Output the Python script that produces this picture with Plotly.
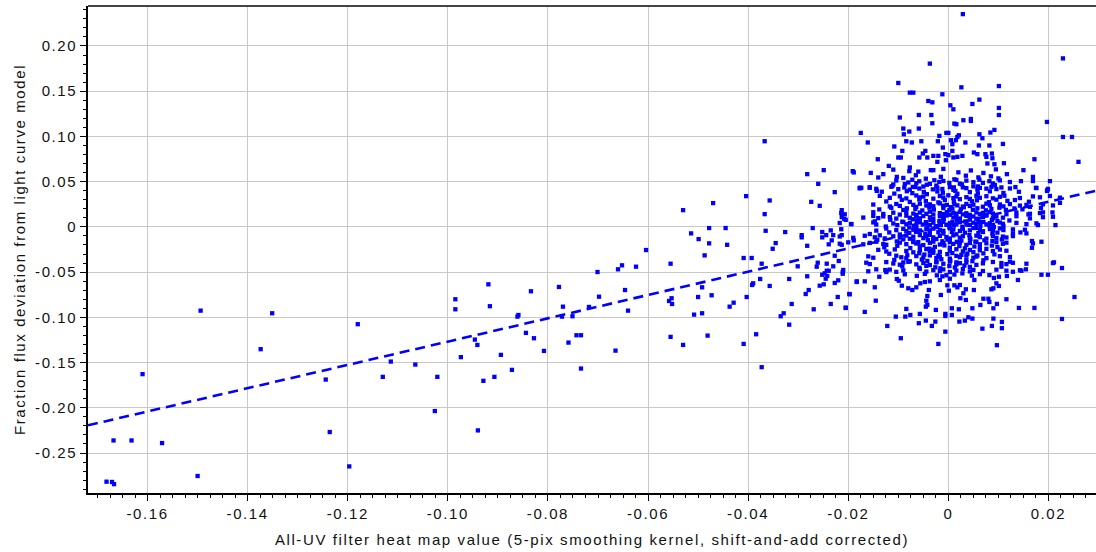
import plotly.graph_objects as go

# ---- sparse tail of the distribution (strongly negative heat-map values) ----
tail_heat = [-0.1682, -0.1671, -0.1667, -0.1668, -0.1632, -0.1610, -0.1571, -0.1500,
             -0.1494, -0.1351, -0.1180, -0.1374, -0.1244, -0.1130, -0.1114, -0.1065,
             -0.1021, -0.1026, -0.1236, -0.1197,
             -0.0530, -0.0514, -0.0499, -0.0604, -0.0555, -0.0701, -0.0660, -0.0652,
             -0.0624, -0.0919, -0.0985, -0.0985, -0.0916, -0.0834, -0.0778, -0.0770,
             -0.0698, -0.0646, -0.0640, -0.0718, -0.0859, -0.0861, -0.0772, -0.0751,
             -0.0558, -0.0553, -0.0552, -0.0500, -0.0508, -0.0946, -0.0941, -0.0974,
             -0.0894, -0.0844, -0.0828, -0.0808, -0.0759, -0.0743, -0.0734, -0.0665,
             -0.0555, -0.0530, -0.0929, -0.0907, -0.0872, -0.0734, -0.0940]
tail_flux = [-0.2817, -0.2820, -0.2844, -0.2361, -0.2361, -0.1628, -0.2390, -0.2754,
             -0.0926, -0.0955, -0.1076, -0.1352, -0.1688, -0.1658, -0.1489, -0.1522,
             -0.1658, -0.2036, -0.2268, -0.2648,
             0.0185, -0.0072, -0.0135, -0.0256, -0.0407, -0.0499, -0.0469, -0.0425,
             -0.0440, -0.0635, -0.0800, -0.0911, -0.0877, -0.0712, -0.0664, -0.0882,
             -0.0772, -0.0698, -0.0926, -0.0885, -0.0974, -0.0992, -0.0992, -0.0988,
             -0.0819, -0.0789, -0.0852, -0.0775, -0.0970, -0.1246, -0.1305, -0.1440,
             -0.1415, -0.1172, -0.1231, -0.1371, -0.1279, -0.1198, -0.1198, -0.1368,
             -0.1216, -0.1305, -0.1702, -0.1658, -0.1581, -0.1566, -0.2250]

# ---- points around the main cluster ----
halo_heat = [-0.0367, -0.0282, -0.0249, -0.0260, -0.0227, -0.0191, -0.0189, -0.0177,
             -0.0470, -0.0404, -0.0357, -0.0367, -0.0274, -0.0257, -0.0213, -0.0213,
             -0.0208, -0.0205, -0.0194, -0.0478, -0.0445, -0.0478, -0.0442, -0.0487,
             -0.0365, -0.0326, -0.0345, -0.0351, -0.0409, -0.0393, -0.0293, -0.0293,
             -0.0282, -0.0271, -0.0252, -0.0244, -0.0252, -0.0235, -0.0230, -0.0233,
             -0.0239, -0.0213, -0.0213, -0.0189, -0.0227,
             -0.0373, -0.0301, -0.0263, -0.0261, -0.0243, -0.0230, -0.0219, -0.0252,
             -0.0247, -0.0243, -0.0239, -0.0242, -0.0245, -0.0249, -0.0257, -0.0282,
             -0.0318, -0.0357, -0.0376, -0.0392, -0.0390, -0.0403, -0.0429, -0.0437,
             -0.0473, -0.0492, -0.0492, -0.0211, -0.0211, -0.0220, -0.0227, -0.0183,
             -0.0221, -0.0235, -0.0197, -0.0205, -0.0269, -0.0279, -0.0285, -0.0313,
             -0.0329, -0.0335, -0.0318, -0.0481, -0.0409, -0.0384, -0.0373,
             0.0029, 0.0229, -0.0037, -0.0100, 0.0026, 0.0101, -0.0077, -0.0070,
             -0.0012, -0.0040, -0.0032, 0.0062, 0.0048, 0.0004, 0.0010, 0.0101,
             -0.0097, -0.0059, -0.0034, 0.0101, -0.0032, 0.0030, 0.0045, 0.0045,
             0.0197, -0.0175, -0.0090, -0.0089, -0.0078, -0.0059, -0.0004, 0.0000,
             0.0012, 0.0016, 0.0021, 0.0018, 0.0062, 0.0068, 0.0084, 0.0092,
             0.0229, 0.0247, -0.0161, -0.0108, -0.0084, -0.0073, -0.0054, -0.0018,
             -0.0021, -0.0011, 0.0005, 0.0008, 0.0015, 0.0034, 0.0061, 0.0082,
             0.0109, -0.0141, -0.0100, -0.0095, -0.0092, -0.0058, -0.0051, -0.0046,
             -0.0042, -0.0030, -0.0020, -0.0022, -0.0006, 0.0000, -0.0005, 0.0008,
             0.0010, 0.0018, 0.0028, 0.0051, 0.0058, 0.0074, 0.0076, 0.0087,
             0.0088, 0.0078, 0.0092, 0.0111, 0.0172, 0.0260, -0.0119, -0.0155,
             -0.0140, -0.0130, -0.0103, -0.0077, -0.0078, -0.0035, -0.0030, 0.0117,
             0.0150, 0.0169, 0.0145, 0.0175, 0.0197, 0.0203, -0.0174, -0.0157,
             -0.0143, -0.0110, 0.0223, 0.0208, 0.0189, 0.0160, 0.0198,
             -0.0183, -0.0167, -0.0198, -0.0205, -0.0167, -0.0145, -0.0147, -0.0138,
             -0.0124, -0.0126, -0.0103, -0.0099, -0.0093, -0.0080, -0.0072, -0.0064,
             -0.0056, -0.0047, -0.0037, -0.0039, -0.0042, -0.0044, -0.0042, -0.0045,
             -0.0084, -0.0105, -0.0086, -0.0076, -0.0057, -0.0045, -0.0059, -0.0033,
             -0.0026, -0.0122, -0.0095, -0.0020, -0.0006, -0.0006, -0.0006, -0.0025,
             -0.0015, 0.0007, 0.0021, 0.0007, 0.0022, 0.0033, 0.0040, 0.0048,
             0.0048, 0.0068, 0.0064, 0.0082, 0.0097, 0.0116, 0.0090, 0.0090,
             0.0087, 0.0107, 0.0107, 0.0097, 0.0141, 0.0172, 0.0227, 0.0252,
             0.0211, 0.0227, 0.0186, 0.0199, 0.0167, 0.0167, 0.0186, 0.0214,
             0.0179, 0.0144, 0.0156, 0.0129, 0.0139, 0.0155, 0.0146, 0.0129,
             0.0117, 0.0123, 0.0106, 0.0106, 0.0091, 0.0101, 0.0096, 0.0101,
             0.0090, 0.0086, 0.0052, 0.0051, 0.0035, 0.0030, 0.0035, 0.0024,
             0.0012, 0.0018, 0.0023, 0.0001, -0.0002, -0.0017, 0.0003, -0.0004,
             0.0070, 0.0080]
halo_flux = [0.0947, 0.0583, 0.0627, 0.0476, 0.0384, 0.0616, 0.0602, 0.0432,
             0.0263, 0.0340, 0.0292, 0.0141, 0.0277, 0.0233, 0.0185, 0.0108,
             0.0089, 0.0078, 0.0031, -0.0013, -0.0013, -0.0182, -0.0198, -0.0315,
             -0.0043, -0.0057, -0.0179, -0.0242, -0.0344, -0.0344, -0.0091, -0.0116,
             -0.0209, -0.0013, -0.0057, -0.0091, -0.0116, -0.0039, -0.0091, -0.0149,
             -0.0193, -0.0091, -0.0198, -0.0149, -0.0319,
             -0.0407, -0.0436, -0.0440, -0.0396, -0.0407, -0.0436, -0.0377, -0.0529,
             -0.0513, -0.0485, -0.0485, -0.0543, -0.0573, -0.0635, -0.0650, -0.0546,
             -0.0576, -0.0653, -0.0576, -0.0642, -0.0624, -0.0775, -0.0838, -0.0882,
             -0.0756, -0.0668, -0.0955, -0.0499, -0.0518, -0.0591, -0.0620, -0.0609,
             -0.0775, -0.0852, -0.0745, -0.0896, -0.0911, -0.0698, -0.0742, -0.0852,
             -0.0955, -0.0988, -0.1081, -0.1202, -0.1294, -0.1187, -0.1551,
             0.2352, 0.1863, 0.1805, 0.1591, 0.1543, 0.1557, 0.1484, 0.1484,
             0.1466, 0.1392, 0.1377, 0.1407, 0.1359, 0.1344, 0.1300, 0.1315,
             0.1209, 0.1237, 0.1237, 0.1237, 0.1146, 0.1179, 0.1193, 0.1171,
             0.1160, 0.1039, 0.1087, 0.1024, 0.1054, 0.1087, 0.1039, 0.1039,
             0.1142, 0.1135, 0.1013, 0.0994, 0.1024, 0.0980, 0.1043, 0.1072,
             0.0994, 0.0994, 0.0933, 0.0889, 0.0947, 0.0933, 0.0947, 0.1006,
             0.0947, 0.0877, 0.0958, 0.0914, 0.0958, 0.0933, 0.0900, 0.0900,
             0.0917, 0.0748, 0.0767, 0.0767, 0.0840, 0.0767, 0.0811, 0.0840,
             0.0767, 0.0785, 0.0785, 0.0719, 0.0804, 0.0793, 0.0737, 0.0840,
             0.0767, 0.0774, 0.0785, 0.0822, 0.0804, 0.0804, 0.0774, 0.0811,
             0.0759, 0.0701, 0.0693, 0.0704, 0.0748, 0.0719, 0.0674, 0.0597,
             0.0546, 0.0583, 0.0553, 0.0657, 0.0616, 0.0627, 0.0627, 0.0583,
             0.0627, 0.0553, 0.0506, 0.0432, 0.0398, 0.0506, 0.0432, 0.0432,
             0.0398, 0.0469, 0.0266, 0.0160, 0.0160, 0.0138, 0.0406,
             -0.0602, -0.0602, -0.0742, -0.0893, -0.0940, -0.0816, -0.0668, -0.0551,
             -0.0499, -0.0477, -0.0576, -0.0595, -0.0650, -0.0679, -0.0698, -0.0668,
             -0.0624, -0.0609, -0.0602, -0.0698, -0.0764, -0.0816, -0.0863, -0.0882,
             -0.0907, -0.0992, -0.0992, -0.0974, -0.0962, -0.1036, -0.1065, -0.1095,
             -0.1047, -0.1095, -0.1231, -0.1294, -0.1158, -0.0985, -0.0962, -0.0918,
             -0.0753, -0.0900, -0.0911, -0.0974, -0.1047, -0.1036, -0.0999, -0.1014,
             -0.0900, -0.1125, -0.0863, -0.0830, -0.0852, -0.0800, -0.0900, -0.1014,
             -0.1095, -0.1051, -0.1120, -0.1308, -0.0896, -0.0896, -0.1018, -0.0775,
             -0.0392, -0.0455, -0.0529, -0.0529, -0.0157, -0.0231, -0.0164, 0.0020,
             0.0020, -0.0061, -0.0072, -0.0072, -0.0587, -0.0469, -0.0485, -0.0496,
             -0.0543, -0.0385, -0.0400, -0.0440, -0.0565, -0.0551, -0.0624, -0.0653,
             -0.0679, -0.0690, -0.0587, -0.0698, -0.0690, -0.0734, -0.0808, -0.0789,
             -0.0646, -0.0668, -0.0642, -0.0705, -0.0646, -0.0587, -0.0573, -0.0535,
             -0.0794, -0.0794]

# ---- dense core of the cluster (x = heat-map value, y = flux deviation) ----
core_heat = [
    -0.0110, -0.0060, -0.0010, 0.0020, 0.0045, 0.0070, 0.0095,
    -0.0090, -0.0065, -0.0045, -0.0015, 0.0012, 0.0035, 0.0060, 0.0085, 0.0100,
    -0.0104, -0.0080, -0.0072, -0.0064, -0.0058, -0.0037, -0.0028, -0.0018, -0.0010,
    0.0002, 0.0016, 0.0023, 0.0036, 0.0050, 0.0062, 0.0069, 0.0082, 0.0089, 0.0103,
    0.0123, 0.0169,
    -0.0112, -0.0087, -0.0071, -0.0043, -0.0024, 0.0011, 0.0027, 0.0059, 0.0093, 0.0134,
    -0.0177, -0.0157, -0.0144, -0.0114, -0.0100, -0.0088, -0.0077, -0.0066, -0.0058,
    -0.0050, -0.0031, -0.0022, -0.0012, 0.0003, 0.0010, 0.0029, 0.0036, 0.0050,
    0.0058, 0.0063, 0.0076, 0.0086, 0.0096, 0.0106, 0.0123, 0.0176, 0.0199,
    -0.0133, -0.0108, -0.0083, -0.0072, -0.0049, -0.0043, -0.0022, -0.0011, 0.0014,
    0.0018, 0.0043, 0.0059, 0.0083, 0.0110, 0.0141,
    -0.0137, -0.0117, -0.0097, -0.0084, -0.0064, -0.0057, -0.0050, -0.0030, -0.0017,
    -0.0010, 0.0000, 0.0010, 0.0016, 0.0036, 0.0043, 0.0056, 0.0063, 0.0076, 0.0089,
    0.0103, 0.0112, 0.0143, 0.0169, 0.0183, 0.0203, 0.0223,
    -0.0124, -0.0093, -0.0077, -0.0058, -0.0045, -0.0020, -0.0007, 0.0011, 0.0023,
    0.0047, 0.0057, 0.0081, 0.0096, 0.0118, 0.0133, 0.0161,
    -0.0150, -0.0117, -0.0104, -0.0097, -0.0070, -0.0064, -0.0057, -0.0044, -0.0037,
    -0.0030, -0.0017, -0.0010, -0.0003, 0.0005, 0.0012, 0.0018, 0.0029, 0.0036,
    0.0043, 0.0050, 0.0069, 0.0076, 0.0083, 0.0103, 0.0110, 0.0123, 0.0143, 0.0156,
    0.0163, 0.0189, 0.0209,
    -0.0138, -0.0114, -0.0090, -0.0083, -0.0066, -0.0052, -0.0038, -0.0029, -0.0010,
    0.0002, 0.0008, 0.0025, 0.0031, 0.0049, 0.0058, 0.0075, 0.0086, 0.0102, 0.0115,
    0.0132, 0.0148, 0.0185,
    -0.0214, -0.0207, -0.0150, -0.0130, -0.0110, -0.0097, -0.0084, -0.0070, -0.0064,
    -0.0057, -0.0044, -0.0037, -0.0030, -0.0017, -0.0010, -0.0003, 0.0003, 0.0010,
    0.0016, 0.0023, 0.0029, 0.0036, 0.0043, 0.0056, 0.0063, 0.0069, 0.0076, 0.0083,
    0.0089, 0.0116, 0.0136, 0.0163, 0.0183,
    -0.0170, -0.0150, -0.0140, -0.0130, -0.0117, -0.0104, -0.0084, -0.0077, -0.0064,
    -0.0057, -0.0050, -0.0037, -0.0030, -0.0017, -0.0010, -0.0004, 0.0010, 0.0016,
    0.0023, 0.0036, 0.0043, 0.0050, 0.0056, 0.0069, 0.0076, 0.0089, 0.0096, 0.0109,
    0.0136, 0.0163, 0.0189, 0.0209,
    -0.0147, -0.0116, -0.0092, -0.0071, -0.0063, -0.0045, -0.0036, -0.0018, -0.0009,
    0.0008, 0.0017, 0.0034, 0.0043, 0.0060, 0.0070, 0.0087, 0.0098, 0.0122,
    -0.0217, -0.0194, -0.0150, -0.0144, -0.0110, -0.0090, -0.0084, -0.0077, -0.0064,
    -0.0057, -0.0044, -0.0037, -0.0030, -0.0017, -0.0010, -0.0004, 0.0003, 0.0016,
    0.0023, 0.0036, 0.0043, 0.0050, 0.0056, 0.0063, 0.0076, 0.0083, 0.0089, 0.0103,
    0.0109, 0.0136, 0.0156, 0.0176,
    -0.0125, -0.0102, -0.0078, -0.0069, -0.0051, -0.0042, -0.0025, -0.0015, 0.0002,
    0.0011, 0.0028, 0.0038, 0.0055, 0.0064, 0.0082, 0.0091, 0.0110,
    -0.0214, -0.0144, -0.0124, -0.0104, -0.0090, -0.0084, -0.0070, -0.0064, -0.0057,
    -0.0044, -0.0037, -0.0030, -0.0017, -0.0010, 0.0003, 0.0010, 0.0023, 0.0029,
    0.0043, 0.0050, 0.0063, 0.0069, 0.0083, 0.0089, 0.0103, 0.0110, 0.0129, 0.0153,
    -0.0157, -0.0118, -0.0097, -0.0078, -0.0064, -0.0046, -0.0037, -0.0020, -0.0010,
    0.0007, 0.0016, 0.0033, 0.0042, 0.0060, 0.0069, 0.0088, 0.0098,
    -0.0217, -0.0190, -0.0167, -0.0147, -0.0137, -0.0127, -0.0110, -0.0097, -0.0084,
    -0.0077, -0.0070, -0.0057, -0.0050, -0.0044, -0.0030, -0.0024, -0.0017, -0.0004,
    0.0003, 0.0010, 0.0023, 0.0029, 0.0043, 0.0056, 0.0063, 0.0076, 0.0089, 0.0096,
    0.0109, 0.0116, 0.0129,
    -0.0142, -0.0103, -0.0090, -0.0070, -0.0060, -0.0041, -0.0030, -0.0012, -0.0002,
    0.0017, 0.0026, 0.0044, 0.0054, 0.0072, 0.0088, 0.0107,
    -0.0217, -0.0200, -0.0170, -0.0157, -0.0144, -0.0130, -0.0124, -0.0097, -0.0084,
    -0.0070, -0.0064, -0.0050, -0.0037, -0.0030, -0.0017, -0.0010, 0.0003, 0.0010,
    0.0023, 0.0036, 0.0043, 0.0056, 0.0063, 0.0076, 0.0096, 0.0109, 0.0116, 0.0169,
    -0.0128, -0.0102, -0.0076, -0.0057, -0.0038, -0.0027, -0.0008, 0.0003, 0.0022,
    0.0033, 0.0052, 0.0063, 0.0087, 0.0098,
    -0.0140, -0.0124, -0.0107, -0.0084, -0.0070, -0.0057, -0.0044, -0.0037, -0.0030,
    -0.0017, 0.0003, 0.0016, 0.0029, 0.0043, 0.0050, 0.0063, 0.0076, 0.0089, 0.0103,
    0.0116,
    -0.0118, -0.0082, -0.0058, -0.0048, -0.0030, -0.0020, -0.0002, 0.0008, 0.0026,
    0.0038, 0.0058, 0.0070, 0.0092,
    -0.0160, -0.0150, -0.0104, -0.0094, -0.0084, -0.0064, -0.0050, -0.0037, -0.0024,
    -0.0017, 0.0003, 0.0016, 0.0023, 0.0036, 0.0050, 0.0056, 0.0076, 0.0103, 0.0123,
    -0.0108, -0.0077, -0.0053, -0.0042, -0.0024, -0.0014, 0.0004, 0.0016, 0.0036,
    0.0048, 0.0070,
    -0.0164, -0.0157, -0.0124, -0.0110, -0.0097, -0.0090, -0.0080, -0.0064, -0.0050,
    -0.0037, -0.0024, -0.0010, 0.0003, 0.0016, 0.0023, 0.0036, 0.0056, 0.0069, 0.0089,
    0.0116, 0.0129, 0.0156, 0.0209,
    -0.0092, -0.0058, -0.0044, -0.0026, -0.0016, 0.0002, 0.0013, 0.0032, 0.0043,
    -0.0210, -0.0160, -0.0144, -0.0124, -0.0117, -0.0104, -0.0090, -0.0057, -0.0044,
    -0.0030, -0.0017, -0.0010, 0.0003, 0.0016, 0.0029, 0.0043, 0.0050, 0.0069, 0.0096,
    0.0116, 0.0143,
    -0.0087, -0.0063, -0.0047, -0.0023, -0.0012, 0.0012, 0.0028, 0.0047, 0.0063, 0.0082,
]
core_flux = [
    0.0633, 0.0611, 0.0641, 0.0603, 0.0624, 0.0596, 0.0636,
    0.0541, 0.0571, 0.0533, 0.0554, 0.0526, 0.0566, 0.0547, 0.0559, 0.0536,
    0.0513, 0.0491, 0.0521, 0.0483, 0.0504, 0.0476, 0.0516, 0.0497, 0.0508,
    0.0486, 0.0519, 0.0478, 0.0511, 0.0494, 0.0522, 0.0487, 0.0505, 0.0480, 0.0514,
    0.0496, 0.0507,
    0.0451, 0.0474, 0.0442, 0.0466, 0.0456, 0.0437, 0.0470, 0.0447, 0.0463, 0.0440,
    0.0426, 0.0439, 0.0421, 0.0444, 0.0417, 0.0435, 0.0412, 0.0441, 0.0424,
    0.0446, 0.0415, 0.0433, 0.0419, 0.0440, 0.0410, 0.0437, 0.0428, 0.0448,
    0.0414, 0.0431, 0.0423, 0.0443, 0.0418, 0.0436, 0.0425, 0.0429, 0.0420,
    0.0389, 0.0368, 0.0394, 0.0373, 0.0386, 0.0362, 0.0391, 0.0377, 0.0397,
    0.0366, 0.0384, 0.0371, 0.0393, 0.0375, 0.0388,
    0.0343, 0.0321, 0.0338, 0.0315, 0.0347, 0.0326, 0.0335, 0.0312, 0.0341,
    0.0324, 0.0349, 0.0318, 0.0336, 0.0328, 0.0310, 0.0344, 0.0322, 0.0339, 0.0316,
    0.0333, 0.0345, 0.0319, 0.0337, 0.0327, 0.0342, 0.0323,
    0.0281, 0.0299, 0.0276, 0.0303, 0.0285, 0.0271, 0.0296, 0.0279, 0.0306,
    0.0283, 0.0294, 0.0273, 0.0301, 0.0288, 0.0297, 0.0278,
    0.0247, 0.0226, 0.0253, 0.0232, 0.0244, 0.0221, 0.0256, 0.0236, 0.0249,
    0.0228, 0.0259, 0.0234, 0.0242, 0.0219, 0.0251, 0.0238, 0.0225, 0.0254,
    0.0231, 0.0246, 0.0223, 0.0257, 0.0239, 0.0248, 0.0227, 0.0252, 0.0235, 0.0243,
    0.0222, 0.0250, 0.0237,
    0.0193, 0.0211, 0.0187, 0.0205, 0.0198, 0.0182, 0.0214, 0.0191, 0.0208,
    0.0185, 0.0202, 0.0195, 0.0217, 0.0189, 0.0206, 0.0183, 0.0199, 0.0212, 0.0188,
    0.0204, 0.0194, 0.0209,
    0.0154, 0.0139, 0.0162, 0.0143, 0.0157, 0.0136, 0.0165, 0.0147, 0.0131,
    0.0159, 0.0144, 0.0168, 0.0137, 0.0152, 0.0141, 0.0163, 0.0134, 0.0156,
    0.0146, 0.0166, 0.0138, 0.0151, 0.0133, 0.0160, 0.0142, 0.0155, 0.0135, 0.0164,
    0.0148, 0.0140, 0.0158, 0.0145, 0.0153,
    0.0103, 0.0121, 0.0097, 0.0116, 0.0108, 0.0092, 0.0124, 0.0101, 0.0113,
    0.0095, 0.0119, 0.0106, 0.0089, 0.0117, 0.0099, 0.0126, 0.0104, 0.0111,
    0.0093, 0.0122, 0.0100, 0.0115, 0.0090, 0.0109, 0.0125, 0.0096, 0.0114, 0.0102,
    0.0118, 0.0094, 0.0107, 0.0112,
    0.0061, 0.0079, 0.0057, 0.0084, 0.0066, 0.0052, 0.0076, 0.0063, 0.0088,
    0.0055, 0.0072, 0.0060, 0.0081, 0.0068, 0.0054, 0.0077, 0.0064, 0.0071,
    0.0043, 0.0031, 0.0049, 0.0026, 0.0038, 0.0054, 0.0029, 0.0045, 0.0022,
    0.0051, 0.0035, 0.0019, 0.0047, 0.0033, 0.0056, 0.0024, 0.0041, 0.0028,
    0.0052, 0.0036, 0.0021, 0.0046, 0.0032, 0.0055, 0.0027, 0.0040, 0.0023, 0.0048,
    0.0034, 0.0044, 0.0030, 0.0039,
    0.0004, 0.0019, -0.0006, 0.0013, 0.0026, -0.0009, 0.0008, 0.0021, -0.0003,
    0.0016, 0.0001, 0.0024, -0.0011, 0.0011, 0.0018, -0.0002, 0.0009,
    -0.0026, -0.0041, -0.0018, -0.0036, -0.0022, -0.0047, -0.0031, -0.0014, -0.0039,
    -0.0025, -0.0050, -0.0019, -0.0034, -0.0044, -0.0016, -0.0029, -0.0045, -0.0021,
    -0.0038, -0.0013, -0.0033, -0.0048, -0.0024, -0.0040, -0.0017, -0.0035, -0.0028,
    -0.0032,
    -0.0079, -0.0061, -0.0084, -0.0066, -0.0053, -0.0077, -0.0088, -0.0059, -0.0073,
    -0.0056, -0.0082, -0.0064, -0.0091, -0.0068, -0.0057, -0.0075, -0.0063,
    -0.0106, -0.0121, -0.0098, -0.0115, -0.0093, -0.0127, -0.0104, -0.0118, -0.0096,
    -0.0131, -0.0109, -0.0091, -0.0124, -0.0101, -0.0116, -0.0134, -0.0099, -0.0112,
    -0.0128, -0.0094, -0.0119, -0.0103, -0.0125, -0.0097, -0.0113, -0.0130, -0.0100,
    -0.0122, -0.0107, -0.0117, -0.0102,
    -0.0143, -0.0161, -0.0138, -0.0157, -0.0168, -0.0146, -0.0134, -0.0159, -0.0141,
    -0.0165, -0.0152, -0.0136, -0.0163, -0.0148, -0.0155, -0.0139,
    -0.0186, -0.0171, -0.0193, -0.0177, -0.0164, -0.0189, -0.0198, -0.0174, -0.0191,
    -0.0168, -0.0184, -0.0201, -0.0176, -0.0163, -0.0195, -0.0180, -0.0169, -0.0188,
    -0.0173, -0.0199, -0.0178, -0.0166, -0.0192, -0.0181, -0.0170, -0.0187, -0.0175,
    -0.0183,
    -0.0226, -0.0209, -0.0234, -0.0214, -0.0241, -0.0221, -0.0205, -0.0230, -0.0212,
    -0.0238, -0.0217, -0.0228, -0.0207, -0.0224,
    -0.0254, -0.0272, -0.0249, -0.0266, -0.0281, -0.0257, -0.0245, -0.0269, -0.0252,
    -0.0276, -0.0262, -0.0247, -0.0271, -0.0255, -0.0279, -0.0259, -0.0243, -0.0267,
    -0.0251, -0.0264,
    -0.0297, -0.0313, -0.0291, -0.0306, -0.0286, -0.0318, -0.0301, -0.0289, -0.0309,
    -0.0295, -0.0316, -0.0293, -0.0304,
    -0.0326, -0.0341, -0.0319, -0.0336, -0.0347, -0.0323, -0.0338, -0.0315, -0.0344,
    -0.0329, -0.0351, -0.0321, -0.0335, -0.0317, -0.0340, -0.0328, -0.0346, -0.0324,
    -0.0333,
    -0.0366, -0.0381, -0.0361, -0.0377, -0.0388, -0.0358, -0.0373, -0.0392, -0.0364,
    -0.0379, -0.0369,
    -0.0396, -0.0411, -0.0389, -0.0405, -0.0418, -0.0393, -0.0386, -0.0414, -0.0399,
    -0.0422, -0.0391, -0.0408, -0.0384, -0.0416, -0.0401, -0.0394, -0.0420, -0.0403,
    -0.0388, -0.0412, -0.0397, -0.0407, -0.0400,
    -0.0436, -0.0452, -0.0431, -0.0447, -0.0458, -0.0433, -0.0449, -0.0428, -0.0443,
    -0.0476, -0.0491, -0.0469, -0.0486, -0.0472, -0.0497, -0.0481, -0.0465, -0.0494,
    -0.0478, -0.0489, -0.0470, -0.0499, -0.0483, -0.0467, -0.0492, -0.0475, -0.0488,
    -0.0473, -0.0484, -0.0479,
    -0.0524, -0.0541, -0.0519, -0.0536, -0.0547, -0.0527, -0.0514, -0.0539, -0.0522,
    -0.0533,
]

# linear fit drawn across the plot
fit_slope = 1.288
fit_intercept = 0.002

x_range = [-0.1719, 0.0295]
y_range = [-0.2942, 0.2442]

x_tick_vals = [-0.16, -0.14, -0.12, -0.10, -0.08, -0.06, -0.04, -0.02, 0.0, 0.02]
x_tick_text = ["-0.16", "-0.14", "-0.12", "-0.10", "-0.08", "-0.06", "-0.04", "-0.02", "0", "0.02"]
y_tick_vals = [-0.25, -0.20, -0.15, -0.10, -0.05, 0.0, 0.05, 0.10, 0.15, 0.20]
y_tick_text = ["-0.25", "-0.20", "-0.15", "-0.10", "-0.05", "0", "0.05", "0.10", "0.15", "0.20"]

all_heat = tail_heat + halo_heat + core_heat
all_flux = tail_flux + halo_flux + core_flux

BLUE = "#0000ff"
FONT = "Liberation Sans, Arial, Helvetica, sans-serif"
TEXT = "#111111"

fig = go.Figure()
fig.add_trace(go.Scatter(
    x=all_heat, y=all_flux, mode="markers",
    marker=dict(symbol="square", size=4.3, color=BLUE, line=dict(width=0)),
    showlegend=False, hoverinfo="x+y",
))
fig.add_trace(go.Scatter(
    x=x_range,
    y=[fit_slope * v + fit_intercept for v in x_range],
    mode="lines",
    line=dict(color=BLUE, width=2.6, dash="10px,6px"),
    showlegend=False, hoverinfo="skip",
))

axis_common = dict(
    showgrid=True, gridcolor="#c8c8c8", gridwidth=1.3,
    zeroline=False,
    showline=True, linecolor="#000000", linewidth=1.5,
    ticks="outside", ticklen=6, tickwidth=1.2, tickcolor="#000000",
    tickfont=dict(family=FONT, size=15, color=TEXT),
    tickmode="array",
)

fig.update_layout(
    width=1096, height=552,
    margin=dict(l=88, r=0, t=6, b=59),
    paper_bgcolor="#ffffff", plot_bgcolor="#ffffff",
    font=dict(family=FONT, size=15, color=TEXT),
    xaxis=dict(
        **axis_common,
        range=x_range,
        tickvals=x_tick_vals, ticktext=x_tick_text,
        minor=dict(dtick=0.0025, tick0=0, ticks="outside", ticklen=3,
                   tickwidth=1, tickcolor="#000000", showgrid=False),
        title=dict(text="All-UV filter heat map value (5-pix smoothing kernel, shift-and-add corrected)",
                   font=dict(family=FONT, size=15, color=TEXT), standoff=14),
    ),
    yaxis=dict(
        **axis_common,
        range=y_range,
        tickvals=y_tick_vals, ticktext=y_tick_text,
        minor=dict(dtick=0.01, tick0=0, ticks="outside", ticklen=3,
                   tickwidth=1, tickcolor="#000000", showgrid=False),
        title=dict(text="Fraction flux deviation from light curve model",
                   font=dict(family=FONT, size=15, color=TEXT), standoff=14),
    ),
    shapes=[dict(type="line", xref="paper", yref="paper", x0=0, x1=1, y0=1, y1=1,
                 line=dict(color="#444444", width=2))],
)

spacing_js = (
    "document.querySelectorAll('.xtick text, .ytick text, .g-xtitle text, .g-ytitle text')"
    ".forEach(function(t){t.style.letterSpacing='1.6px';});"
)
fig.write_html("out.html", post_script=spacing_js)
